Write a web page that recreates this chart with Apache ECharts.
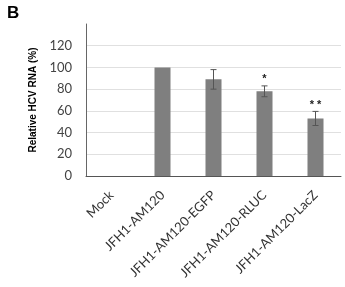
<!DOCTYPE html>
<html>
<head>
<meta charset="utf-8">
<script src="https://cdn.jsdelivr.net/npm/echarts@6/dist/echarts.min.js"></script>
<style>
html, body { margin: 0; padding: 0; background: #fff; }
#chart { width: 345px; height: 287px; }
</style>
</head>
<body>
<div id="chart"></div>
<script>
// values
const categories = ['Mock', 'JFH1-AM120', 'JFH1-AM120-EGFP', 'JFH1-AM120-RLUC', 'JFH1-AM120-LacZ']
const values = [0, 100, 89, 78, 53]
const errors = [0, 0, 9, 5, 6.5]
const stars = ['', '', '', '*', '* *']

const fontFamily = 'Lato, "Open Sans", sans-serif'

let myChart = echarts.init(document.getElementById('chart'))
let option = {
    animation: false,
    title: {
        text: 'B',
        left: 2,
        top: 0,
        textStyle: { fontSize: 17, fontWeight: 'bold', color: '#000', fontFamily: 'Liberation Sans, sans-serif' }
    },
    grid: {
        left: 86,
        right: 4,
        top: 24,
        bottom: 111
    },
    xAxis: {
        type: 'category',
        data: categories,
        axisLine: { lineStyle: { color: '#555', width: 1 } },
        axisTick: { show: false },
        axisLabel: {
            rotate: 45,
            interval: 0,
            margin: 17,
            color: '#333',
            fontSize: 13,
            fontFamily: fontFamily
        }
    },
    yAxis: {
        type: 'value',
        min: 0,
        max: 140,
        interval: 20,
        name: 'Relative HCV RNA (%)',
        nameLocation: 'middle',
        nameGap: 48,
        nameTextStyle: { fontSize: 10, fontWeight: 'bold', color: '#000', fontFamily: 'Liberation Sans, sans-serif' },
        axisLine: { show: true, lineStyle: { color: '#666' } },
        axisTick: { show: false },
        axisLabel: {
            showMaxLabel: false,
            margin: 14,
            color: '#444',
            fontSize: 13,
            fontFamily: fontFamily
        },
        splitLine: {
            showMaxLine: false,
            lineStyle: { color: '#e0e0e0' }
        }
    },
    series: [
        {
            type: 'bar',
            data: values,
            barWidth: 16,
            itemStyle: { color: '#7f7f7f' }
        },
        {
            type: 'custom',
            data: values.map((v, i) => [i, v, errors[i]]),
            renderItem: function(params, api) {
                let i = api.value(0)
                let v = api.value(1)
                let e = api.value(2)
                let star = stars[i]
                let children = []
                if (e > 0) {
                    let hi = api.coord([i, v + e])
                    let lo = api.coord([i, v - e])
                    let style = { stroke: '#555', lineWidth: 1 }
                    children.push({ type: 'line', shape: { x1: hi[0], y1: hi[1], x2: lo[0], y2: lo[1] }, style: style })
                    children.push({ type: 'line', shape: { x1: hi[0] - 3, y1: hi[1], x2: hi[0] + 3, y2: hi[1] }, style: style })
                    children.push({ type: 'line', shape: { x1: lo[0] - 3, y1: lo[1], x2: lo[0] + 3, y2: lo[1] }, style: style })
                    if (star) {
                        children.push({
                            type: 'text',
                            style: {
                                text: star,
                                x: hi[0],
                                y: hi[1] - 1,
                                align: 'center',
                                verticalAlign: 'bottom',
                                fontSize: 11,
                                fontWeight: 'bold',
                                fill: '#222',
                                fontFamily: 'Liberation Sans, sans-serif'
                            }
                        })
                    }
                }
                return { type: 'group', children: children }
            },
            z: 3
        }
    ]
}
myChart.setOption(option)
window.addEventListener('resize', function() {
    myChart.resize()
})
</script>
</body>
</html>
